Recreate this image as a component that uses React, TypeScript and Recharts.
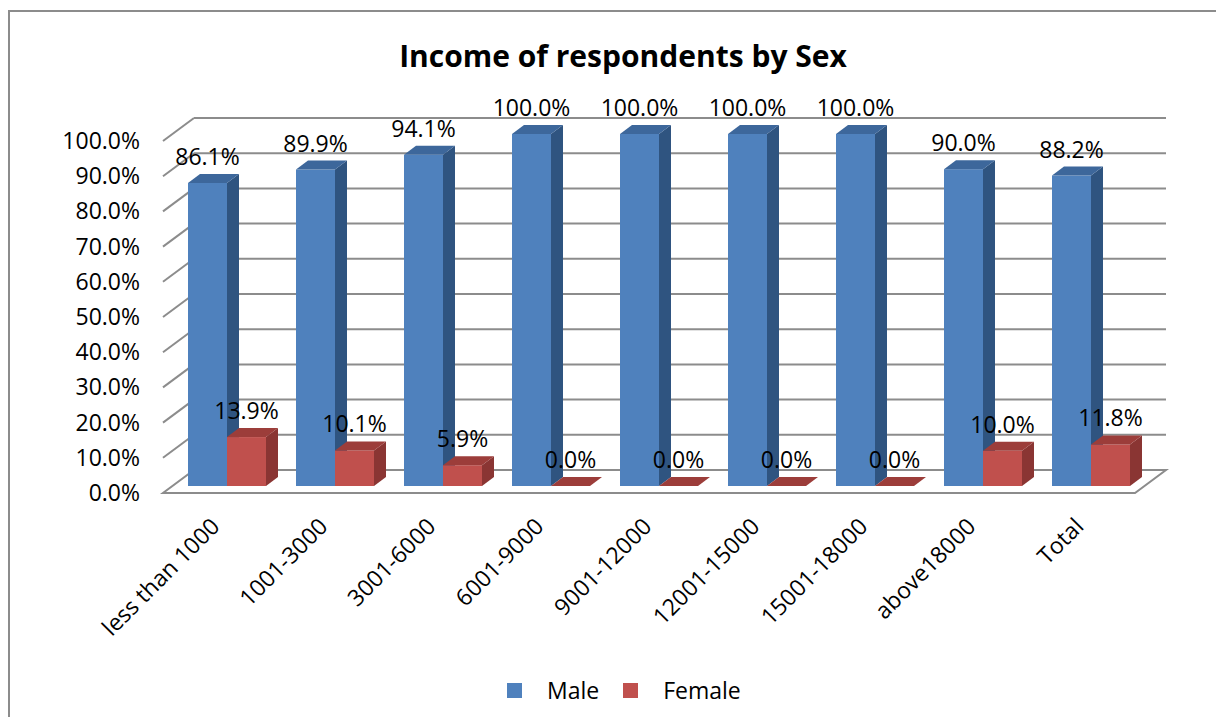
import React from "react"
import { BarChart, Bar, XAxis, YAxis, CartesianGrid, Legend, LabelList } from "recharts"

const categories = [
  "less than 1000",
  "1001-3000",
  "3001-6000",
  "6001-9000",
  "9001-12000",
  "12001-15000",
  "15001-18000",
  "above18000",
  "Total",
]
const maleValues = [86.1, 89.9, 94.1, 100.0, 100.0, 100.0, 100.0, 90.0, 88.2]
const femaleValues = [13.9, 10.1, 5.9, 0.0, 0.0, 0.0, 0.0, 10.0, 11.8]
const yTicks = [0, 10, 20, 30, 40, 50, 60, 70, 80, 90, 100]
const seriesNames = ["Male", "Female"]

const data = categories.map((name, i) => ({
  name,
  male: maleValues[i],
  female: femaleValues[i],
}))

const FONT = "'Open Sans', Lato, sans-serif"
const FS = 23
const GRID = "#8c8c8c"
// oblique offsets of the front plane / back wall relative to the bar plane
const FRONT_DX = -10
const FRONT_DY = 7
const BACK_DX = 21
const BACK_DY = -16
// depth of each bar
const DEPTH_X = 12
const DEPTH_Y = 9

function gridLine(props: any) {
  const { x1, x2, y1, index } = props
  if (index === 0) {
    const pts = [
      [x1 + FRONT_DX, y1 + FRONT_DY],
      [x2 + FRONT_DX, y1 + FRONT_DY],
      [x2 + BACK_DX, y1 + BACK_DY],
      [x1 + BACK_DX, y1 + BACK_DY],
    ]
    return (
      <polygon
        key={`grid-${index}`}
        points={pts.map((p) => p.join(",")).join(" ")}
        fill="#ffffff"
        stroke={GRID}
        strokeWidth={2}
      />
    )
  }
  return (
    <g key={`grid-${index}`}>
      <line
        x1={x1 + FRONT_DX}
        y1={y1 + FRONT_DY}
        x2={x1 + BACK_DX}
        y2={y1 + BACK_DY}
        stroke={GRID}
        strokeWidth={2}
      />
      <line
        x1={x1 + BACK_DX}
        y1={y1 + BACK_DY}
        x2={x2 + BACK_DX}
        y2={y1 + BACK_DY}
        stroke={GRID}
        strokeWidth={2}
      />
    </g>
  )
}

function makeBox(front: string, top: string, side: string) {
  return (props: any) => {
    const { x, y, width, height } = props
    const h = Math.max(0, height)
    const side_ = [
      [x + width, y],
      [x + width + DEPTH_X, y - DEPTH_Y],
      [x + width + DEPTH_X, y + h - DEPTH_Y],
      [x + width, y + h],
    ]
    const top_ = [
      [x, y],
      [x + DEPTH_X, y - DEPTH_Y],
      [x + width + DEPTH_X, y - DEPTH_Y],
      [x + width, y],
    ]
    const pts = (a: number[][]) => a.map((p) => p.join(",")).join(" ")
    return (
      <g>
        <rect x={x} y={y} width={width} height={h} fill={front} />
        <polygon points={pts(side_)} fill={side} />
        <polygon points={pts(top_)} fill={top} />
      </g>
    )
  }
}

const pctLabel = (props: any) => {
  const { x, y, width, value } = props
  return (
    <text
      x={x + width / 2}
      y={y - 18}
      textAnchor="middle"
      fontFamily={FONT}
      fontSize={FS}
      fill="#000"
    >
      {Number(value).toFixed(1)}%
    </text>
  )
}

const YTick = (props: any) => {
  const { x, y, payload } = props
  return (
    <text
      x={x - 33}
      y={y + FRONT_DY}
      dy="0.35em"
      textAnchor="end"
      fontFamily={FONT}
      fontSize={FS}
      fill="#000"
    >
      {Number(payload.value).toFixed(1)}%
    </text>
  )
}

const XTick = (props: any) => {
  const { x, y, payload } = props
  const tx = x - 6
  const ty = y + 42
  return (
    <text
      x={tx}
      y={ty}
      textAnchor="end"
      transform={`rotate(-45, ${tx}, ${ty})`}
      fontFamily={FONT}
      fontSize={FS}
      fill="#000"
    >
      {payload.value}
    </text>
  )
}

const LegendContent = (props: any) => {
  const items = [...(props.payload || [])].sort(
    (a: any, b: any) => seriesNames.indexOf(a.value) - seriesNames.indexOf(b.value)
  )
  return (
    <div
      style={{
        display: "flex",
        alignItems: "center",
        paddingLeft: 499,
        fontFamily: FONT,
        fontSize: FS,
        color: "#000",
      }}
    >
      {items.map((p: any) => (
        <div key={p.value} style={{ display: "flex", alignItems: "center", marginRight: 24 }}>
          <span
            style={{ display: "inline-block", width: 15, height: 15, background: p.color, marginRight: 25 }}
          />
          <span>{p.value}</span>
        </div>
      ))}
    </div>
  )
}

export default function App() {
  return (
    <div style={{ position: "relative", width: 1216, height: 709, overflow: "hidden", background: "#fff" }}>
      <div
        style={{
          position: "absolute",
          left: 0,
          top: 2,
          width: 1400,
          height: 900,
          border: `2px solid ${GRID}`,
          boxSizing: "border-box",
        }}
      />
      <div
        style={{
          position: "absolute",
          top: 27,
          left: 7,
          width: 1216,
          textAlign: "center",
          fontFamily: FONT,
          fontWeight: 700,
          fontSize: 30,
          color: "#000",
        }}
      >
        Income of respondents by Sex
      </div>
      <div style={{ position: "absolute", left: 0, top: 0 }}>
        <BarChart
          width={1216}
          height={717}
          data={data}
          margin={{ top: 126, right: 79, bottom: 209, left: 105 }}
          barCategoryGap={15}
          barGap={0}
        >
          <CartesianGrid vertical={false} horizontal={gridLine} />
          <XAxis
            dataKey="name"
            interval={0}
            height={30}
            axisLine={false}
            tickLine={false}
            tickSize={0}
            tickMargin={0}
            tick={<XTick />}
          />
          <YAxis
            domain={[0, 100]}
            ticks={yTicks}
            width={60}
            axisLine={false}
            tickLine={false}
            tickSize={0}
            tickMargin={0}
            tick={<YTick />}
          />
          <Legend
            verticalAlign="middle"
            layout="horizontal"
            wrapperStyle={{ top: 666, left: 0, width: 1216 }}
            content={<LegendContent />}
          />
          <Bar
            dataKey="male"
            name="Male"
            fill="#4f81bd"
            shape={makeBox("#4f81bd", "#3d679b", "#2f5480")}
            isAnimationActive={false}
          >
            <LabelList dataKey="male" content={pctLabel} />
          </Bar>
          <Bar
            dataKey="female"
            name="Female"
            fill="#c0504d"
            shape={makeBox("#c0504d", "#9c3d3a", "#8a3533")}
            isAnimationActive={false}
          >
            <LabelList dataKey="female" content={pctLabel} />
          </Bar>
        </BarChart>
      </div>
    </div>
  )
}
